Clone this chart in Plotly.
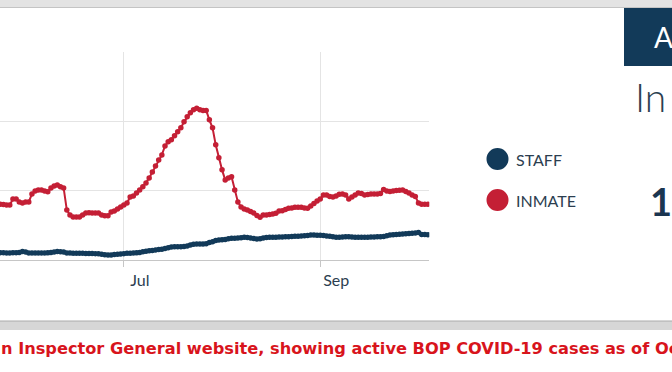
import plotly.graph_objects as go
import pandas as pd

W, H = 672, 372

# ---- data ----
start_date = "2020-05-23"
n_days = 136
dates = pd.date_range(start_date, periods=n_days, freq="D")

inmate = [804, 801, 794, 794, 881, 881, 838, 823, 838, 838,
          953, 996, 1011, 1011, 996, 986, 1040, 1069, 1083, 1058,
          1040, 722, 650, 621, 621, 621, 650, 679, 683, 679,
          679, 679, 650, 640, 640, 693, 708, 736, 765, 794,
          823, 910, 924, 967, 1011, 1058, 1112, 1184, 1271, 1357,
          1444, 1516, 1646, 1704, 1733, 1791, 1848, 1906, 1993, 2065,
          2123, 2166, 2188, 2166, 2156, 2156, 2022, 1906, 1661, 1473,
          1300, 1155, 1184, 1199, 1011, 838, 765, 736, 722, 700,
          679, 643, 617, 650, 650, 657, 664, 674, 708, 712,
          729, 747, 751, 761, 761, 761, 751, 747, 780, 816,
          852, 881, 939, 939, 917, 910, 924, 949, 953, 939,
          881, 910, 939, 967, 960, 939, 946, 953, 953, 953,
          960, 1018, 996, 989, 996, 1001, 1006, 1011, 989, 967,
          939, 917, 823, 804, 804, 804]

staff = [105, 105, 101, 101, 105, 105, 108, 123, 116, 101,
         101, 101, 101, 101, 101, 104, 108, 116, 123, 120,
         116, 101, 101, 97, 97, 97, 97, 94, 94, 94,
         91, 90, 84, 77, 72, 72, 79, 84, 87, 91,
         97, 97, 101, 104, 108, 118, 127, 134, 137, 144,
         152, 156, 166, 176, 188, 191, 192, 192, 195, 202,
         217, 227, 231, 231, 231, 235, 253, 264, 282, 289,
         292, 296, 306, 313, 313, 318, 321, 328, 325, 318,
         310, 303, 306, 318, 325, 328, 328, 329, 332, 332,
         335, 336, 339, 342, 344, 347, 351, 354, 361, 361,
         358, 357, 354, 347, 342, 335, 328, 328, 332, 335,
         336, 332, 328, 328, 328, 328, 329, 332, 332, 335,
         336, 339, 351, 361, 364, 368, 373, 375, 378, 383,
         386, 390, 397, 368, 368, 365]

series_names = ["STAFF", "INMATE"]
tick_vals = ["2020-07-01", "2020-09-01"]
tick_text = ["Jul", "Sep"]
x_range = ["2020-05-22 22:00", "2020-10-05 10:00"]
y_range = [0, 3000]

panel_title = "A"
panel_label = "In"
panel_value = "1"
caption = "n Inspector General website, showing active BOP COVID-19 cases as of Oc"

NAVY = "#123a59"
RED = "#c41f35"
TEXT = "#2c3e50"

fig = go.Figure()
fig.add_trace(go.Scatter(x=dates, y=staff, mode="lines+markers", name=series_names[0],
                         line=dict(color=NAVY, width=2.5), marker=dict(color=NAVY, size=5.5),
                         showlegend=False))
fig.add_trace(go.Scatter(x=dates, y=inmate, mode="lines+markers", name=series_names[1],
                         line=dict(color=RED, width=2), marker=dict(color=RED, size=5.5),
                         showlegend=False))

def px_x(p):
    return p / W

def px_y(p):
    return 1 - p / H

fig.update_layout(
    width=W, height=H,
    margin=dict(l=0, r=0, t=0, b=0),
    paper_bgcolor="white", plot_bgcolor="white",
    showlegend=False,
    xaxis=dict(domain=[0, px_x(429.3)], range=x_range, type="date",
               tickvals=tick_vals, ticktext=tick_text,
               showgrid=True, gridcolor="#e4e4e4", gridwidth=1,
               showline=True, linecolor="#c6c6c6", linewidth=1,
               ticks="outside", ticklen=6, tickcolor="#c6c6c6",
               ticklabelshift=16, ticklabelstandoff=0,
               tickfont=dict(family="Lato", size=16, color=TEXT)),
    yaxis=dict(domain=[px_y(260), px_y(52)], range=y_range, dtick=1000,
               showgrid=True, gridcolor="#e4e4e4", gridwidth=1,
               zeroline=False, showticklabels=False, showline=False),
)

shapes = []
# top gray bar
shapes.append(dict(type="rect", xref="paper", yref="paper", x0=0, x1=1,
                   y0=px_y(8), y1=1, fillcolor="#e3e3e3", line=dict(width=0), layer="below"))
shapes.append(dict(type="line", xref="paper", yref="paper", x0=0, x1=1,
                   y0=px_y(7.5), y1=px_y(7.5), line=dict(color="#c4c4c4", width=1)))
# bottom gray bar
shapes.append(dict(type="rect", xref="paper", yref="paper", x0=0, x1=1,
                   y0=px_y(330), y1=px_y(321), fillcolor="#d6d6d6", line=dict(width=0), layer="below"))
shapes.append(dict(type="line", xref="paper", yref="paper", x0=0, x1=1,
                   y0=px_y(321), y1=px_y(321), line=dict(color="#aaaaaa", width=1)))
# navy header box on right
shapes.append(dict(type="rect", xref="paper", yref="paper", x0=px_x(624), x1=1,
                   y0=px_y(66), y1=px_y(8), fillcolor=NAVY, line=dict(width=0)))
# legend circles
for cy, col in [(159, NAVY), (200, RED)]:
    shapes.append(dict(type="circle", xref="paper", yref="paper",
                       xsizemode="pixel", ysizemode="pixel",
                       xanchor=px_x(497.5), yanchor=px_y(cy),
                       x0=-11, x1=11, y0=-11, y1=11,
                       fillcolor=col, line=dict(width=0)))
fig.update_layout(shapes=shapes)

ann = []
for cy, name in [(159, series_names[0]), (200, series_names[1])]:
    ann.append(dict(xref="paper", yref="paper", x=px_x(514), y=px_y(cy),
                    xanchor="left", yanchor="middle", showarrow=False,
                    text=name, font=dict(family="Lato", size=16, color=TEXT)))
ann.append(dict(xref="paper", yref="paper", x=px_x(652), y=px_y(37),
                xanchor="left", yanchor="middle", showarrow=False,
                text=panel_title, font=dict(family="Lato", size=28, color="white")))
ann.append(dict(xref="paper", yref="paper", x=px_x(633), y=px_y(97),
                xanchor="left", yanchor="middle", showarrow=False,
                text=panel_label, font=dict(family="Lato Light, Lato", size=39, color=TEXT)))
ann.append(dict(xref="paper", yref="paper", x=px_x(661), y=px_y(201),
                xanchor="center", yanchor="middle", showarrow=False,
                text="<b>" + panel_value + "</b>", font=dict(family="Lato", size=38, color="#1b3550")))
ann.append(dict(xref="paper", yref="paper", x=px_x(-1), y=px_y(348),
                xanchor="left", yanchor="middle", showarrow=False,
                text="<b>" + caption + "</b>",
                font=dict(family="DejaVu Sans", size=16.2, color="#d8141c")))
fig.update_layout(annotations=ann)

fig.write_html("out.html", config={"displayModeBar": False},
               post_script="document.body.style.margin='0';document.body.style.overflow='hidden';")
